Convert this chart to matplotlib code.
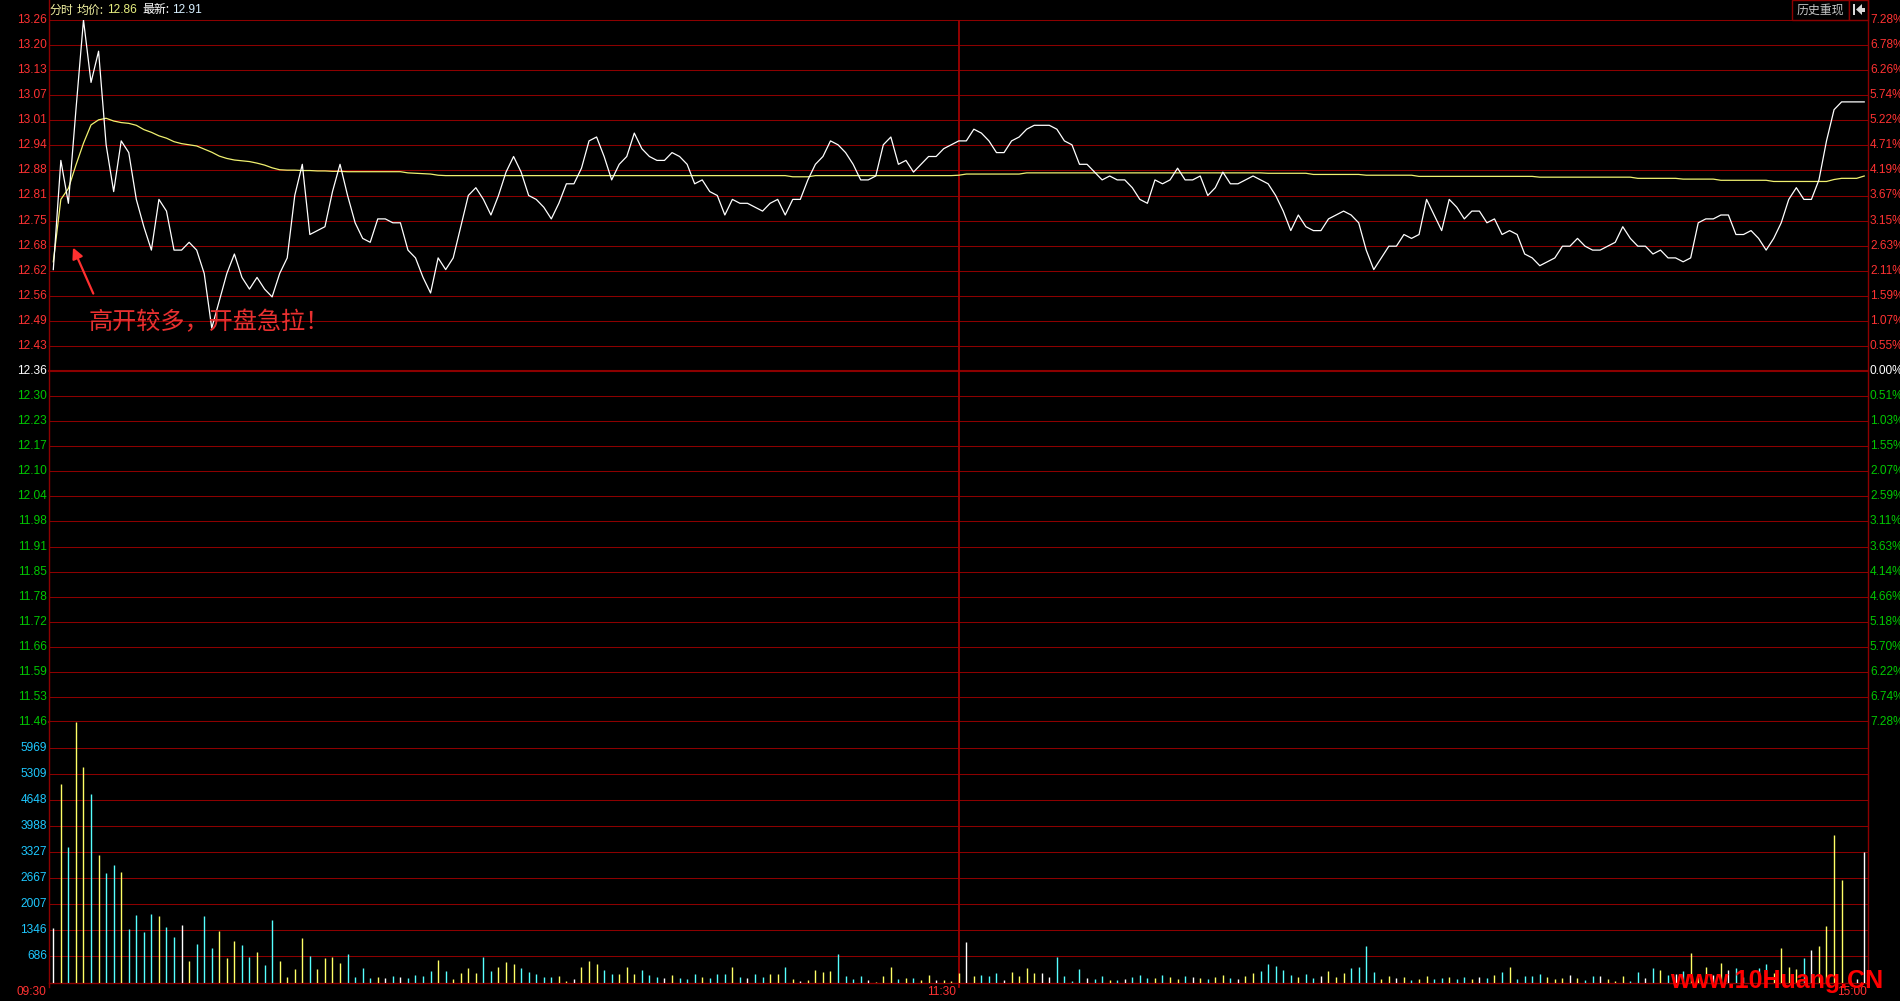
import numpy as np
import matplotlib
matplotlib.use('Agg')
import matplotlib.pyplot as plt
from matplotlib import transforms
from matplotlib.patches import Rectangle, Polygon
from matplotlib.lines import Line2D

plt.rcParams['font.family'] = ['Liberation Sans', 'Noto Sans CJK SC', 'DejaVu Sans']

# one value per minute, 09:30-11:30 + 13:00-15:00 (241 points)
price = [
    12.62, 12.90, 12.79, 13.03, 13.26, 13.10, 13.18, 12.94, 12.82, 12.95,
    12.92, 12.80, 12.73, 12.67, 12.80, 12.77, 12.67, 12.67, 12.69, 12.67,
    12.61, 12.47, 12.54, 12.61, 12.66, 12.60, 12.57, 12.60, 12.57, 12.55,
    12.61, 12.65, 12.81, 12.89, 12.71, 12.72, 12.73, 12.82, 12.89, 12.81,
    12.74, 12.70, 12.69, 12.75, 12.75, 12.74, 12.74, 12.67, 12.65, 12.60,
    12.56, 12.65, 12.62, 12.65, 12.73, 12.81, 12.83, 12.80, 12.76, 12.81,
    12.87, 12.91, 12.87, 12.81, 12.80, 12.78, 12.75, 12.79, 12.84, 12.84,
    12.88, 12.95, 12.96, 12.91, 12.85, 12.89, 12.91, 12.97, 12.93, 12.91,
    12.90, 12.90, 12.92, 12.91, 12.89, 12.84, 12.85, 12.82, 12.81, 12.76,
    12.80, 12.79, 12.79, 12.78, 12.77, 12.79, 12.80, 12.76, 12.80, 12.80,
    12.85, 12.89, 12.91, 12.95, 12.94, 12.92, 12.89, 12.85, 12.85, 12.86,
    12.94, 12.96, 12.89, 12.90, 12.87, 12.89, 12.91, 12.91, 12.93, 12.94,
    12.95, 12.95, 12.98, 12.97, 12.95, 12.92, 12.92, 12.95, 12.96, 12.98,
    12.99, 12.99, 12.99, 12.98, 12.95, 12.94, 12.89, 12.89, 12.87, 12.85,
    12.86, 12.85, 12.85, 12.83, 12.80, 12.79, 12.85, 12.84, 12.85, 12.88,
    12.85, 12.85, 12.86, 12.81, 12.83, 12.87, 12.84, 12.84, 12.85, 12.86,
    12.85, 12.84, 12.81, 12.77, 12.72, 12.76, 12.73, 12.72, 12.72, 12.75,
    12.76, 12.77, 12.76, 12.74, 12.67, 12.62, 12.65, 12.68, 12.68, 12.71,
    12.70, 12.71, 12.80, 12.76, 12.72, 12.80, 12.78, 12.75, 12.77, 12.77,
    12.74, 12.75, 12.71, 12.72, 12.71, 12.66, 12.65, 12.63, 12.64, 12.65,
    12.68, 12.68, 12.70, 12.68, 12.67, 12.67, 12.68, 12.69, 12.73, 12.70,
    12.68, 12.68, 12.66, 12.67, 12.65, 12.65, 12.64, 12.65, 12.74, 12.75,
    12.75, 12.76, 12.76, 12.71, 12.71, 12.72, 12.70, 12.67, 12.70, 12.74,
    12.80, 12.83, 12.80, 12.80, 12.85, 12.95, 13.03, 13.05, 13.05, 13.05,
    13.05,
]

avg_price = [
    12.640, 12.800, 12.828, 12.888, 12.944, 12.991, 13.004, 13.008, 13.001, 12.997,
    12.995, 12.990, 12.979, 12.972, 12.963, 12.957, 12.948, 12.943, 12.940, 12.937,
    12.929, 12.921, 12.911, 12.905, 12.901, 12.899, 12.897, 12.893, 12.888, 12.881,
    12.876, 12.875, 12.875, 12.874, 12.874, 12.873, 12.873, 12.872, 12.872, 12.871,
    12.871, 12.871, 12.871, 12.871, 12.871, 12.871, 12.871, 12.868, 12.867, 12.866,
    12.865, 12.862, 12.861, 12.861, 12.861, 12.861, 12.861, 12.861, 12.861, 12.861,
    12.861, 12.861, 12.861, 12.861, 12.861, 12.861, 12.861, 12.861, 12.861, 12.861,
    12.861, 12.861, 12.861, 12.861, 12.861, 12.861, 12.861, 12.861, 12.861, 12.861,
    12.861, 12.861, 12.861, 12.861, 12.861, 12.861, 12.861, 12.861, 12.861, 12.861,
    12.861, 12.861, 12.861, 12.861, 12.861, 12.861, 12.861, 12.861, 12.858, 12.858,
    12.858, 12.861, 12.861, 12.861, 12.861, 12.861, 12.861, 12.861, 12.861, 12.861,
    12.861, 12.861, 12.861, 12.861, 12.861, 12.861, 12.861, 12.861, 12.861, 12.861,
    12.862, 12.865, 12.865, 12.865, 12.865, 12.865, 12.865, 12.865, 12.865, 12.868,
    12.868, 12.868, 12.868, 12.868, 12.868, 12.868, 12.868, 12.868, 12.868, 12.868,
    12.868, 12.868, 12.868, 12.868, 12.868, 12.868, 12.868, 12.868, 12.868, 12.868,
    12.868, 12.868, 12.868, 12.868, 12.868, 12.868, 12.868, 12.868, 12.868, 12.868,
    12.868, 12.867, 12.867, 12.867, 12.867, 12.867, 12.867, 12.864, 12.864, 12.864,
    12.864, 12.864, 12.864, 12.864, 12.862, 12.862, 12.862, 12.862, 12.862, 12.862,
    12.862, 12.859, 12.859, 12.859, 12.859, 12.859, 12.859, 12.859, 12.859, 12.859,
    12.859, 12.859, 12.859, 12.859, 12.859, 12.859, 12.859, 12.857, 12.857, 12.857,
    12.857, 12.857, 12.857, 12.857, 12.857, 12.857, 12.857, 12.857, 12.857, 12.857,
    12.854, 12.854, 12.854, 12.854, 12.854, 12.854, 12.852, 12.852, 12.852, 12.852,
    12.852, 12.849, 12.849, 12.849, 12.849, 12.849, 12.849, 12.849, 12.846, 12.846,
    12.846, 12.846, 12.846, 12.846, 12.846, 12.846, 12.851, 12.854, 12.854, 12.854,
    12.860,
]

volume = [
    1385, 5057, 3461, 6629, 5490, 4802, 3250, 2792, 2995, 2817,
    1367, 1723, 1290, 1748, 1697, 1418, 1163, 1468, 552, 985,
    1697, 883, 1323, 636, 1069, 959, 662, 781, 450, 1596,
    552, 145, 349, 1145, 680, 349, 636, 654, 501, 730,
    145, 374, 120, 145, 120, 170, 150, 120, 200, 170,
    300, 580, 300, 90, 250, 370, 250, 650, 300, 400,
    540, 480, 370, 290, 240, 140, 140, 170, 60, 90,
    400, 550, 480, 330, 230, 240, 400, 240, 330, 200,
    140, 120, 200, 120, 90, 240, 140, 120, 220, 240,
    400, 140, 120, 230, 140, 230, 240, 400, 100, 60,
    70, 330, 290, 300, 740, 170, 112, 188, 69, 18,
    188, 400, 94, 120, 120, 69, 196, 69, 69, 44,
    255, 1036, 170, 196, 170, 247, 69, 272, 170, 374,
    247, 247, 145, 654, 170, 44, 349, 120, 94, 170,
    69, 69, 94, 145, 196, 120, 120, 200, 150, 100,
    170, 150, 120, 90, 140, 200, 120, 100, 170, 250,
    300, 480, 420, 330, 200, 150, 220, 120, 170, 300,
    150, 250, 370, 400, 930, 270, 100, 180, 120, 150,
    70, 100, 170, 90, 130, 140, 100, 160, 90, 150,
    120, 200, 272, 400, 94, 170, 170, 221, 145, 94,
    120, 196, 120, 69, 170, 170, 94, 43, 170, 43,
    272, 120, 374, 323, 196, 221, 298, 756, 150, 400,
    196, 501, 323, 374, 145, 120, 374, 476, 247, 883,
    400, 349, 629, 832, 934, 1443, 3759, 2614, 145, 100,
    3326,
]

pre_close = 12.36
price_labels = ['13.26', '13.20', '13.13', '13.07', '13.01', '12.94', '12.88', '12.81',
                '12.75', '12.68', '12.62', '12.56', '12.49', '12.43', '12.36', '12.30',
                '12.23', '12.17', '12.10', '12.04', '11.98', '11.91', '11.85', '11.78',
                '11.72', '11.66', '11.59', '11.53', '11.46']
pct_labels = ['7.28%', '6.78%', '6.26%', '5.74%', '5.22%', '4.71%', '4.19%', '3.67%',
              '3.15%', '2.63%', '2.11%', '1.59%', '1.07%', '0.55%', '0.00%', '0.51%',
              '1.03%', '1.55%', '2.07%', '2.59%', '3.11%', '3.63%', '4.14%', '4.66%',
              '5.18%', '5.70%', '6.22%', '6.74%', '7.28%']
vol_ticks = [686, 1346, 2007, 2667, 3327, 3988, 4648, 5309, 5969]
vol_max = 6629
time_labels = ['09:30', '11:30', '15:00']

RED = '#ff3232'
GREEN = '#00c800'
CYAN_TXT = '#1ec8ff'
GRID = '#8c0000'
UP, DOWN, FLAT = '#ffff66', '#55ffff', '#ffffff'

W, H = 1900, 1001
fig = plt.figure(figsize=(W / 100, H / 100), dpi=100, facecolor='black')


def px_box(x0, y0, x1, y1):
    return [x0 / W, 1 - y1 / H, (x1 - x0) / W, (y1 - y0) / H]


axp = fig.add_axes(px_box(49, 20, 1868, 722))
axv = fig.add_axes(px_box(49, 722, 1868, 983))
x = np.arange(len(price))
for ax in (axp, axv):
    ax.set_facecolor('black')
    ax.set_xlim(-0.57, 240.5)
    ax.set_xticks([])
    ax.set_yticks([])
    for s in ax.spines.values():
        s.set_visible(False)

hi = float(price_labels[0])
lo = float(price_labels[-1])
axp.set_ylim(lo, hi)
axv.set_ylim(0, vol_max)

# price grid + labels on both sides
ticks = np.linspace(hi, lo, len(price_labels))
tl = transforms.blended_transform_factory(axp.transAxes, axp.transData)
for k, (t, lab, pl) in enumerate(zip(ticks, price_labels, pct_labels)):
    thick = lab in ('12.36', '11.46')
    axp.axhline(t, color=GRID, lw=1.5 if thick else 0.75, clip_on=False, zorder=1)
    if float(lab) > pre_close:
        c = RED
    elif float(lab) < pre_close:
        c = GREEN
    else:
        c = '#ffffff'
    axp.text(-2 / 1819, t, lab, transform=tl, ha='right', va='center', color=c, fontsize=8.6)
    axp.text(1 + 2 / 1819, t, pl, transform=tl, ha='left', va='center', color=c, fontsize=8.6,
             clip_on=False)

# volume grid + labels
tv = transforms.blended_transform_factory(axv.transAxes, axv.transData)
for v in vol_ticks:
    axv.axhline(v, color=GRID, lw=0.75, zorder=1)
    axv.text(-2 / 1819, v, str(v), transform=tv, ha='right', va='center', color=CYAN_TXT,
             fontsize=8.6)
axv.axhline(0, color=GRID, lw=1.0, clip_on=False, zorder=1)

# middle (11:30 / 13:00) separator
axp.axvline(120, color='#a00000', lw=1.3, zorder=1)
axv.axvline(120, ymin=-0.015, ymax=1, color='#a00000', lw=1.3, clip_on=False, zorder=1)

# frame lines
for xp in (48.5, 1868.3):
    fig.add_artist(Line2D([xp / W, xp / W], [1, 1 - 987 / H], color=GRID, lw=1.0))

# price & average lines
axp.plot(x, avg_price, color='#f0f070', lw=0.9, zorder=3)
axp.plot(x, price, color='white', lw=0.9, zorder=4)

# volume bars coloured by tick direction
bar_colors = [FLAT]
for k in range(1, len(price)):
    if price[k] > price[k - 1]:
        bar_colors.append(UP)
    elif price[k] < price[k - 1]:
        bar_colors.append(DOWN)
    else:
        bar_colors.append(FLAT)
axv.vlines(x, 0, volume, colors=bar_colors, lw=1.0, zorder=3)

# time labels
tt = transforms.blended_transform_factory(axv.transData, axv.transAxes)
axv.text(-0.57 - 0.3, -0.035, time_labels[0], transform=tt, ha='right', va='center',
         color=RED, fontsize=8.6, clip_on=False)
axv.text(119.6, -0.035, time_labels[1], transform=tt, ha='right', va='center',
         color=RED, fontsize=8.6, clip_on=False)
axv.text(240.4, -0.035, time_labels[2], transform=tt, ha='right', va='center',
         color=RED, fontsize=8.6, clip_on=False)

# header
hy = 1 - 10 / H
fig.text(49.5 / W, hy, '分时', color='#f0f0a0', fontsize=8.6, va='center',
         family=['Noto Sans CJK SC', 'DejaVu Sans'])
fig.text(77 / W, hy, '均价:', color='#f0f0a0', fontsize=8.6, va='center',
         family=['Noto Sans CJK SC', 'DejaVu Sans'])
fig.text(107.5 / W, hy, f'{avg_price[-1]:.2f}', color='#e8f080', fontsize=8.6, va='center')
fig.text(142 / W, hy, '最新:', color='#ffffff', fontsize=8.6, va='center',
         family=['Noto Sans CJK SC', 'DejaVu Sans'])
fig.text(172 / W, hy, '12.91', color='#d8f0ff', fontsize=8.6, va='center')

# "历史重现" button and back icon
fig.add_artist(Rectangle((1792 / W, 1 - 19.7 / H), 57 / W, 19.7 / H, transform=fig.transFigure,
                         facecolor='black', edgecolor=GRID, lw=1.0))
fig.add_artist(Rectangle((1849 / W, 1 - 19.7 / H), 19 / W, 19.7 / H, transform=fig.transFigure,
                         facecolor='black', edgecolor=GRID, lw=1.0))
fig.text(1820.5 / W, hy, '历史重现', color='#c8c8c8', fontsize=8.6, ha='center', va='center',
         family=['Noto Sans CJK SC', 'DejaVu Sans'])
fig.add_artist(Rectangle((1853.3 / W, 1 - 14.5 / H), 2 / W, 10.5 / H, transform=fig.transFigure,
                         facecolor='#d8d8d8', edgecolor='none'))
fig.add_artist(Polygon([(1856 / W, 1 - 9.5 / H), (1862 / W, 1 - 4 / H), (1862 / W, 1 - 15 / H)],
                       closed=True, transform=fig.transFigure, facecolor='#d8d8d8', edgecolor='none'))
fig.add_artist(Rectangle((1861 / W, 1 - 11.5 / H), 4 / W, 4 / H, transform=fig.transFigure,
                         facecolor='#d8d8d8', edgecolor='none'))

# annotation
axp.annotate('', xy=(2.46, 12.683), xytext=(5.45, 12.552),
             arrowprops=dict(arrowstyle='-|>', color='#ff3030', lw=1.6, mutation_scale=16),
             zorder=5)
axp.text(4.66, 12.486, '高开较多，开盘急拉！', color='#e83030', fontsize=17.4, ha='left',
         va='center', family=['Noto Sans CJK SC', 'DejaVu Sans'], zorder=5)

# watermark
fig.text(1670 / W, 1 - 981 / H, 'www.10Huang.CN', color='#ff0000', fontsize=18,
         fontweight='bold', ha='left', va='center',
         family=['Liberation Sans', 'DejaVu Sans'], zorder=10)

fig.savefig('out.png', dpi=100, facecolor='black')
